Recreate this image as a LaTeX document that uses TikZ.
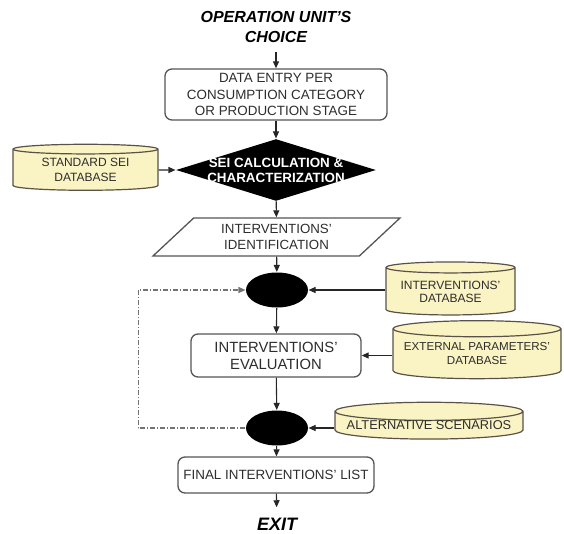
\documentclass[tikz,border=0pt]{standalone}
\usepackage{fontspec}
\setmainfont{Liberation Sans}
\usetikzlibrary{arrows.meta,shapes.geometric}

\definecolor{dbfill}{RGB}{250,243,195}
\definecolor{dbedge}{RGB}{90,82,72}
\definecolor{edge}{RGB}{85,85,85}
\definecolor{txt}{RGB}{45,45,45}

\begin{document}
\begin{tikzpicture}[x=1pt, y=-1pt, >={Triangle[length=7pt,width=6pt]},
  line width=1.1pt,
  proc/.style={draw=edge, line width=1.3pt, rounded corners=7pt, align=center, text=txt, inner sep=0pt},
  db/.style={cylinder, shape border rotate=90, draw=dbedge, line width=1.2pt, fill=dbfill, aspect=0.11, align=center, text=txt, inner sep=0pt},
  hub/.style={ellipse, fill=black, minimum width=62pt, minimum height=35pt, inner sep=0pt},
  flow/.style={->, draw=black!85},
  loop/.style={->, draw=black!55, dash pattern=on 5pt off 2pt on 1pt off 2pt},
  head/.style={font=\fontsize{16}{20}\selectfont\bfseries\itshape, align=center}]
  \useasboundingbox (0,0) rectangle (564,534);

  % main chain
  \node[head, inner sep=9pt] (start) at (276,27) {OPERATION UNIT'S\\CHOICE};
  \node[proc, minimum width=222pt, minimum height=51pt, font=\fontsize{13.4}{16.5}\selectfont] (entry) at (276,94.5)
    {DATA ENTRY PER\\CONSUMPTION CATEGORY\\OR PRODUCTION STAGE};
  \node[diamond, fill=black, minimum width=200pt, minimum height=62pt, inner sep=0pt,
    label={[text=white, font=\fontsize{13.4}{15}\selectfont\bfseries, align=center]center:SEI CALCULATION \&\\CHARACTERIZATION}] (calc) at (276,170) {};
  \node[trapezium, trapezium left angle=32, trapezium right angle=148, trapezium stretches body,
    draw=edge, line width=1.3pt, minimum width=247pt, minimum height=38pt, inner sep=0pt, align=center, text=txt,
    font=\fontsize{13.3}{16}\selectfont] (ident) at (276.5,237) {INTERVENTIONS'\\IDENTIFICATION};
  \node[hub] (merge) at (277,290) {};
  \node[proc, minimum width=170pt, minimum height=43pt, font=\fontsize{14.8}{17}\selectfont] (eval) at (276,355.5)
    {INTERVENTIONS'\\EVALUATION};
  \node[hub] (filter) at (277,428) {};
  \node[proc, minimum width=196pt, minimum height=36pt, font=\fontsize{13.4}{16}\selectfont] (final) at (276,475)
    {FINAL INTERVENTIONS' LIST};
  \node[head, font=\fontsize{18}{22}\selectfont\bfseries\itshape, inner sep=10pt] (exit) at (277,524) {EXIT};

  % databases
  \node[db, minimum width=145pt, minimum height=46pt, font=\fontsize{12}{15}\selectfont] (sei) at (85.5,170) {STANDARD SEI\\DATABASE};
  \node[db, minimum width=129pt, minimum height=53pt, font=\fontsize{12}{13}\selectfont] (intdb) at (450.5,291.5) {INTERVENTIONS'\\DATABASE};
  \node[db, minimum width=168pt, minimum height=58pt, font=\fontsize{11.6}{14}\selectfont] (extdb) at (477,354) {EXTERNAL PARAMETERS'\\DATABASE};
  \node[db, minimum width=188pt, minimum height=35pt, font=\fontsize{12.8}{15}\selectfont] (alt) at (429,425.5) {ALTERNATIVE SCENARIOS};

  % connectors
  \draw[flow] (start) -- (entry);
  \draw[flow] (entry) -- (calc);
  \draw[flow] (sei.east) -- (calc.west);
  \draw[flow] (calc) -- (ident);
  \draw[flow] (ident) -- (merge);
  \draw[flow] (intdb.west |- merge.east) -- (merge.east);
  \draw[flow] (merge) -- (eval);
  \draw[flow] (extdb.west |- eval.east) -- (eval.east);
  \draw[flow] (eval) -- (filter);
  \draw[flow] (alt.west |- filter.east) -- (filter.east);
  \draw[flow] (filter) -- (final);
  \draw[flow] (final) -- (exit);
  \draw[loop] (filter.west) -- ++(-107,0) |- (merge.west);
\end{tikzpicture}
\end{document}
